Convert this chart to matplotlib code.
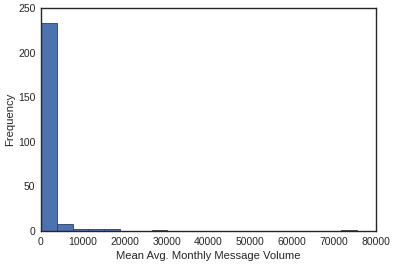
import numpy as np
import matplotlib
matplotlib.use("Agg")
import matplotlib.pyplot as plt

# histogram of mean avg monthly message volume (20 bins)
data_min = 0
data_max = 75500
num_bins = 20
counts = [233, 8, 2, 2, 2, 0, 0, 1, 0, 0, 0, 0, 0, 0, 0, 0, 0, 0, 0, 1]

edges = np.linspace(data_min, data_max, num_bins + 1)
centers = (edges[:-1] + edges[1:]) / 2

plt.rcParams['font.family'] = ['Liberation Sans', 'DejaVu Sans']

fig = plt.figure(figsize=(3.94, 2.68), dpi=100)
ax = fig.add_axes([41/394, 1 - 231/268, 335/394, 223/268])
ax.hist(centers, bins=edges, weights=counts, color='#4C72B0', edgecolor='#2a3f62', linewidth=0.6)

ax.set_xlim(0, 80000)
ax.set_ylim(0, 250)
ax.set_xticks(range(0, 80001, 10000))
ax.set_yticks(range(0, 251, 50))
ax.tick_params(length=0, labelsize=7.5, colors='#262626', pad=4)
for s in ax.spines.values():
    s.set_color('#262626')
    s.set_linewidth(1.0)
ax.set_xlabel("Mean Avg. Monthly Message Volume", fontsize=8.1, color='#262626', labelpad=3)
ax.set_ylabel("Frequency", fontsize=8.1, color='#262626', labelpad=2)

fig.savefig("out.png", dpi=100)
